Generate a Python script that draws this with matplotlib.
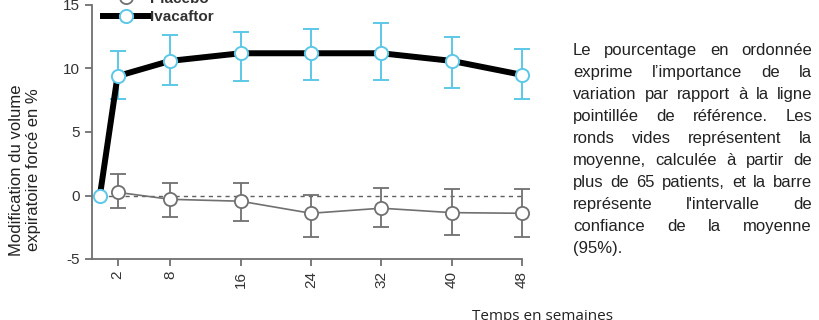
import matplotlib
matplotlib.use("Agg")
import matplotlib.pyplot as plt
from matplotlib.lines import Line2D

plt.rcParams['font.family'] = ['Liberation Sans', 'DejaVu Sans']
plt.rcParams['axes.unicode_minus'] = False

# data
weeks = [0, 2, 8, 16, 24, 32, 40, 48]
iva_mean = [0, 9.4, 10.6, 11.2, 11.2, 11.2, 10.6, 9.5]
iva_low = [0, 7.6, 8.7, 9.0, 9.1, 9.1, 8.5, 7.6]
iva_high = [0, 11.4, 12.6, 12.9, 13.1, 13.6, 12.5, 11.5]

plc_weeks = [2, 8, 16, 24, 32, 40, 48]
plc_mean = [0.25, -0.3, -0.45, -1.4, -1.0, -1.35, -1.4]
plc_low = [-1.0, -1.7, -2.0, -3.3, -2.5, -3.1, -3.3]
plc_high = [1.7, 1.0, 1.0, 0.05, 0.6, 0.5, 0.5]

tick_weeks = [2, 8, 16, 24, 32, 40, 48]
y_ticks = [-5, 0, 5, 10, 15]

note_lines = [
    "Le pourcentage en ordonnée",
    "exprime l\u2019importance de la",
    "variation par rapport à la ligne",
    "pointillée de référence. Les",
    "ronds vides représentent la",
    "moyenne, calculée à partir de",
    "plus de 65 patients, et la barre",
    "représente l'intervalle de",
    "confiance de la moyenne",
    "(95%).",
]

CYAN = "#5cc8e8"
GREY = "#707070"
W, H = 820, 320

fig = plt.figure(figsize=(8.2, 3.2), dpi=100)
ax = fig.add_axes([92 / W, 1 - 259 / H, (522 - 92) / W, (259 - 5) / H])

ax.plot([0, 48], [0, 0], color='#606060', ls=(0, (3, 3)), lw=1, zorder=1)

# placebo
plc_err = [[m - l for m, l in zip(plc_mean, plc_low)],
           [h - m for m, h in zip(plc_mean, plc_high)]]
ax.errorbar(plc_weeks, plc_mean, yerr=plc_err, color=GREY, lw=1.2,
            elinewidth=1.3, capsize=6, capthick=1.3, marker='o', ms=9.5,
            mfc='white', mec=GREY, mew=1.3, zorder=3, clip_on=False)

# ivacaftor
iva_err = [[m - l for m, l in zip(iva_mean, iva_low)],
           [h - m for m, h in zip(iva_mean, iva_high)]]
ax.errorbar(weeks[1:], iva_mean[1:],
            yerr=[iva_err[0][1:], iva_err[1][1:]], fmt='none',
            ecolor=CYAN, elinewidth=1.4, capsize=6, capthick=1.4, zorder=4,
            clip_on=False)
ax.plot(weeks, iva_mean, color='black', lw=4.3, zorder=5, clip_on=False)
ax.plot(weeks, iva_mean, ls='none', marker='o', ms=9.5, mfc='white',
        mec=CYAN, mew=1.4, zorder=6, clip_on=False)

ax.set_xlim(-0.9, 48)
ax.set_ylim(-5, 15)
ax.set_xticks(tick_weeks)
ax.set_xticklabels([str(t) for t in tick_weeks], rotation=90)
ax.set_yticks(y_ticks)
for s in ['top', 'right']:
    ax.spines[s].set_visible(False)
for s in ['left', 'bottom']:
    ax.spines[s].set_color(GREY)
    ax.spines[s].set_linewidth(1.3)
ax.tick_params(colors=GREY, labelcolor='#333333', labelsize=11, width=1.3,
               length=5)

handles = [
    Line2D([], [], color=GREY, lw=1.2, marker='o', ms=9.5, mfc='white',
           mec=GREY, mew=1.3),
    Line2D([], [], color='black', lw=4.3, marker='o', ms=9.5, mfc='white',
           mec=CYAN, mew=1.4),
]
leg = fig.legend(handles, ["Placebo", "Ivacaftor"], loc='upper left',
                 bbox_to_anchor=(95 / W, 1 + 16 / H), frameon=False,
                 borderpad=0, handlelength=3.0, handletextpad=0.1,
                 labelspacing=0.3, prop={'size': 11, 'weight': 'bold'})
for t in leg.get_texts():
    t.set_color('#333333')

fig.text(25 / W, 1 - 170 / H, "Modification du volume\nexpiratoire forcé en %",
         rotation=90, ha='center', va='center', fontsize=12,
         multialignment='center', color='#222222', linespacing=1.2)
fig.text(542 / W, 1 - 309 / H, "Temps en semaines", ha='center', va='top',
         fontsize=11, family=['Open Sans', 'DejaVu Sans'], color='#222222')

# justified note on the right
fig.canvas.draw()
rend = fig.canvas.get_renderer()
x0, x1 = 573, 812
for i, line in enumerate(note_lines):
    yb = 1 - (55 + 22.0 * i) / H
    words = line.split()
    if i == len(note_lines) - 1 or len(words) == 1:
        fig.text(x0 / W, yb, line, fontsize=12, va='baseline', color='#222222')
        continue
    texts = [fig.text(0, yb, w_, fontsize=12, va='baseline', color='#222222')
             for w_ in words]
    widths = [t.get_window_extent(rend).width for t in texts]
    gap = (x1 - x0 - sum(widths)) / (len(words) - 1)
    x = x0
    for t, wd in zip(texts, widths):
        t.set_x(x / W)
        x += wd + gap

fig.savefig("out.png", dpi=100)
